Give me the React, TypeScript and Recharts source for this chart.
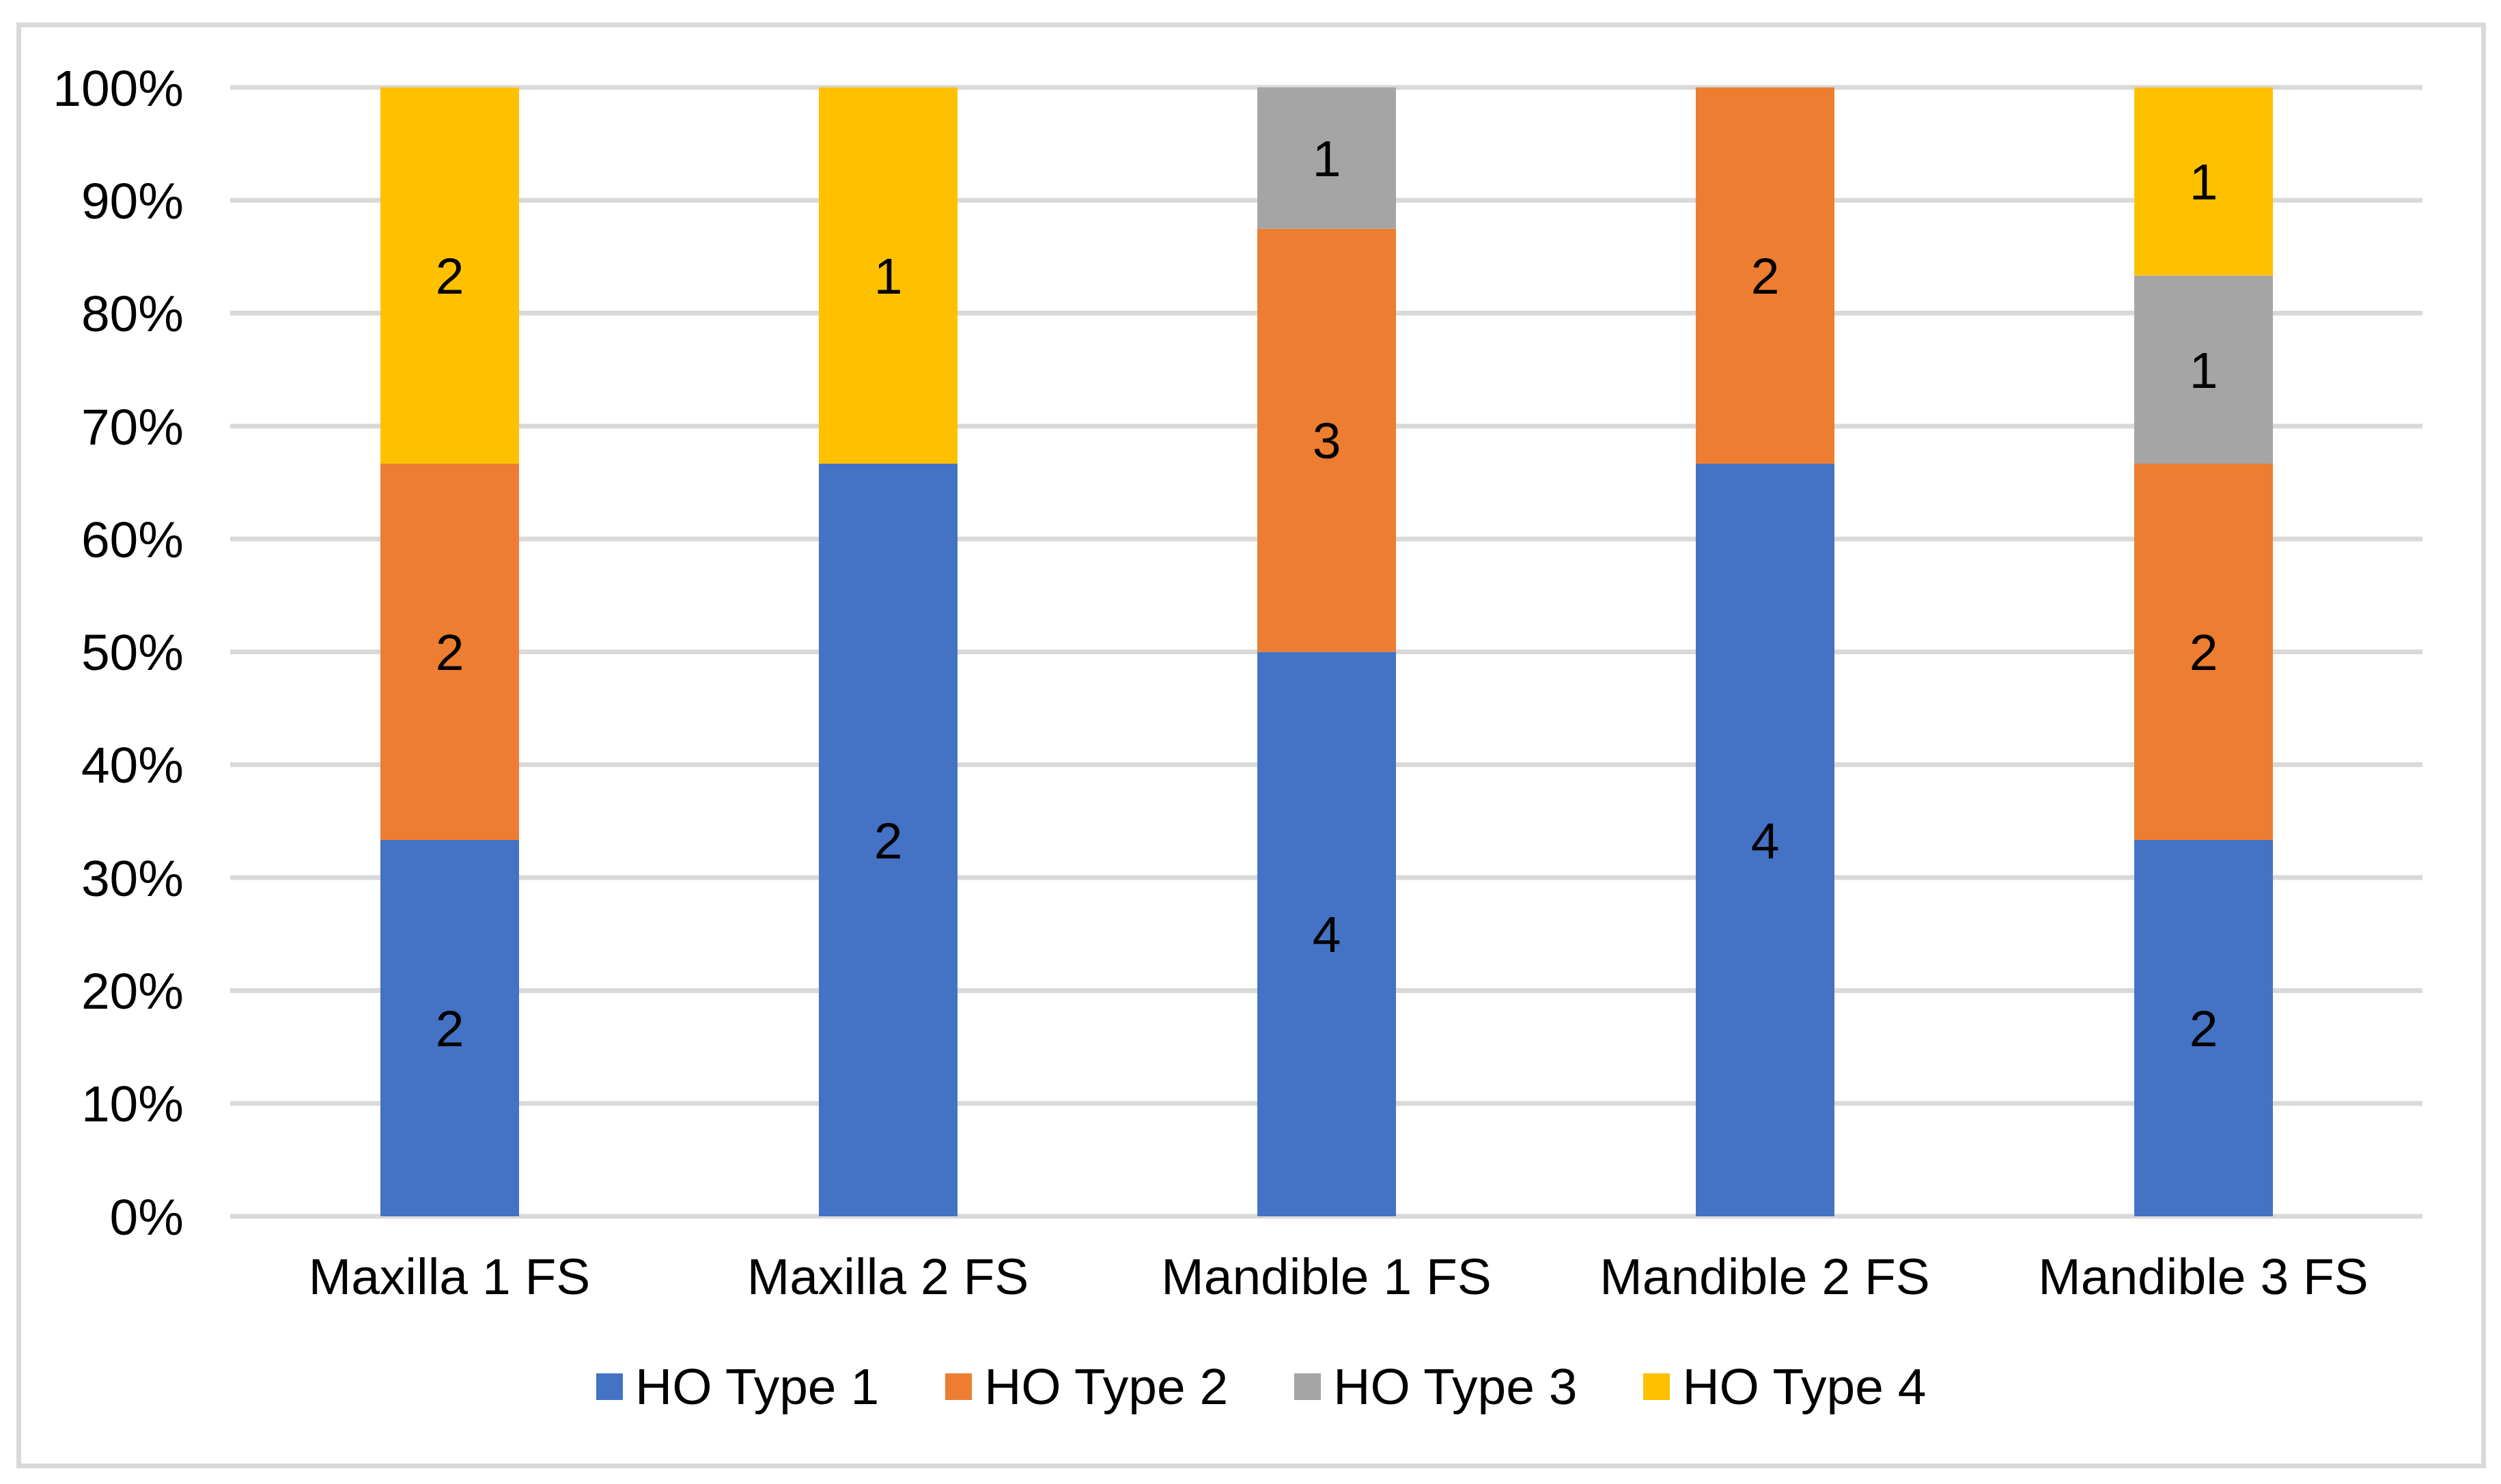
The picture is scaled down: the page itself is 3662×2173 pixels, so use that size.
import React from 'react';
import {
  BarChart,
  Bar,
  XAxis,
  YAxis,
  CartesianGrid,
  Legend,
  LabelList
} from 'recharts';

const CATEGORIES = ['Maxilla 1 FS', 'Maxilla 2 FS', 'Mandible 1 FS', 'Mandible 2 FS', 'Mandible 3 FS'];

// counts per HO type, one value per category
const TYPE1 = [2, 2, 4, 4, 2];
const TYPE2 = [2, 0, 3, 2, 2];
const TYPE3 = [0, 0, 1, 0, 1];
const TYPE4 = [2, 1, 0, 0, 1];

const Y_TICKS = [0, 0.1, 0.2, 0.3, 0.4, 0.5, 0.6, 0.7, 0.8, 0.9, 1];

const SERIES = [
  { key: 't1', name: 'HO Type 1', color: '#4472C4' },
  { key: 't2', name: 'HO Type 2', color: '#ED7D31' },
  { key: 't3', name: 'HO Type 3', color: '#A5A5A5' },
  { key: 't4', name: 'HO Type 4', color: '#FFC000' },
];

const FONT = '"Liberation Sans", Arial, sans-serif';

const chartData = CATEGORIES.map((name, i) => ({
  name,
  t1: TYPE1[i],
  t2: TYPE2[i],
  t3: TYPE3[i],
  t4: TYPE4[i],
}));

const hideZero = (v: any) => (v ? v : '');

const LegendContent = ({ payload }: any) => (
  <div style={{ display: 'flex', alignItems: 'center', gap: 97, height: 90, fontFamily: FONT }}>
    {(payload || []).map((entry: any) => (
      <div key={entry.value} style={{ display: 'flex', alignItems: 'center' }}>
        <div style={{ width: 39, height: 39, background: entry.color, marginRight: 18 }} />
        <span style={{ fontSize: 75, color: '#000', lineHeight: '90px' }}>{entry.value}</span>
      </div>
    ))}
  </div>
);

export default function App() {
  return (
    <div style={{ position: 'absolute', left: 0, top: 0, width: 3662, height: 2173, background: '#fff', fontFamily: FONT }}>
      <div
        style={{
          position: 'absolute',
          left: 24,
          top: 33,
          width: 3616,
          height: 2117,
          border: '7px solid #D9D9D9',
          boxSizing: 'border-box',
        }}
      />
      <BarChart
        width={3662}
        height={2173}
        data={chartData}
        stackOffset="expand"
        margin={{ top: 128, right: 115, left: 0, bottom: 292 }}
        barSize={203}
      >
        <CartesianGrid vertical={false} stroke="#D9D9D9" strokeWidth={7} />
        <XAxis
          dataKey="name"
          axisLine={false}
          tickLine={false}
          tickSize={0}
          tickMargin={61}
          height={100}
          tick={{ fontSize: 75, fill: '#000', fontFamily: FONT }}
        />
        <YAxis
          type="number"
          domain={[0, 1]}
          ticks={Y_TICKS}
          width={337}
          axisLine={false}
          tickLine={false}
          tickSize={0}
          tickMargin={68}
          tickFormatter={(v: number) => `${Math.round(v * 100)}%`}
          tick={{ fontSize: 75, fill: '#000', fontFamily: FONT }}
        />
        <Legend
          verticalAlign="middle"
          align="center"
          content={<LegendContent />}
          wrapperStyle={{ top: 1985, left: 873, width: 2300 }}
        />
        {SERIES.map(s => (
          <Bar key={s.key} dataKey={s.key} name={s.name} stackId="a" fill={s.color} isAnimationActive={false}>
            <LabelList
              dataKey={s.key}
              position="center"
              formatter={hideZero}
              fill="#000000"
              stroke="none"
              fontSize={75}
              fontFamily={FONT}
            />
          </Bar>
        ))}
      </BarChart>
    </div>
  );
}
